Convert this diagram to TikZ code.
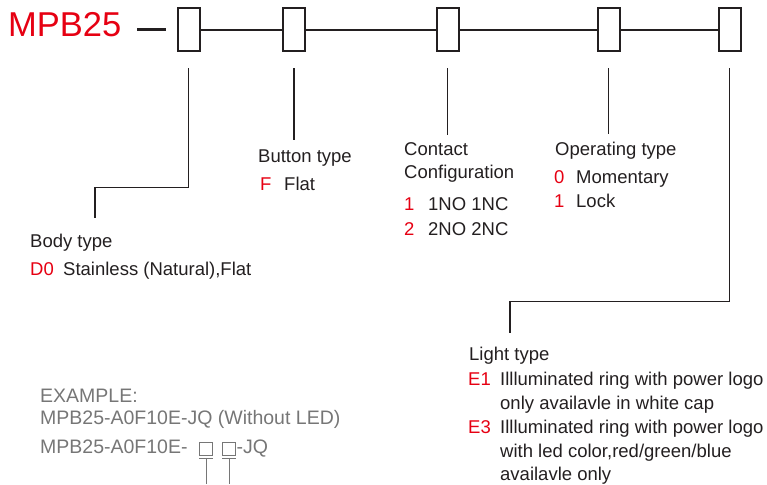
\documentclass[tikz,border=0pt]{standalone}
\usepackage{fontspec}
\setmainfont{Liberation Sans}
\usepackage{tikz}
\usetikzlibrary{positioning}
\usepackage{xcolor}
\definecolor{codered}{RGB}{230,0,18}
\definecolor{lineblack}{RGB}{35,31,32}
\definecolor{examplegray}{RGB}{118,118,118}

\begin{document}
\begin{tikzpicture}[
  x=1pt, y=-1pt,
  slot/.style={rectangle, draw=lineblack, line width=2pt, minimum width=22pt, minimum height=43pt, inner sep=0pt},
  exslot/.style={rectangle, draw=examplegray, line width=0.8pt, minimum width=13pt, minimum height=13pt, inner sep=0pt},
  link/.style={lineblack, line width=1.5pt},
  lead/.style={lineblack, line width=1.4pt},
  exline/.style={examplegray, line width=0.8pt},
  lbl/.style={anchor=base west, inner sep=0pt, text=lineblack, font=\fontsize{18.5}{22}\selectfont},
  code/.style={lbl, text=codered},
  extxt/.style={anchor=base west, inner sep=0pt, text=examplegray, font=\fontsize{19.5}{23}\selectfont}
]
\useasboundingbox (0,0) rectangle (767,484);

% part number row
\node[anchor=base west, inner sep=0pt, text=codered, font=\fontsize{34.5}{40}\selectfont] (title) at (8,37) {MPB25};
\draw[lineblack, line width=3pt] (137,30) -- (166,30);
\node[slot] (b1) at (188.5,30) {};
\node[slot] (b2) at (294,30) {};
\node[slot] (b3) at (447.5,30) {};
\node[slot] (b4) at (608.5,30) {};
\node[slot] (b5) at (729.5,30) {};
\draw[link] (b1.east) -- (b2.west);
\draw[link] (b2.east) -- (b3.west);
\draw[link] (b3.east) -- (b4.west);
\draw[link] (b4.east) -- (b5.west);

% leader ends
\coordinate (bodyend) at (95,218);
\coordinate (btnend) at (294,140);
\coordinate (contend) at (447.5,135);
\coordinate (operend) at (608.5,134);
\coordinate (lightend) at (510,333);

\draw[lead] ([yshift=-16pt]b1.south) -- ++(0,119) -| (bodyend);
\draw[lead] ([yshift=-16pt]b2.south) -- (btnend);
\draw[lead] ([yshift=-16pt]b3.south) -- (contend);
\draw[lead] ([yshift=-16pt]b4.south) -- (operend);
\draw[lead] ([yshift=-16pt]b5.south) -- ++(0,233) -| (lightend);

% body type
\node[lbl] (body) at (30,247) {Body type};
\node[code] (bodyc) at (30,275) {D0};
\node[lbl] (bodyt) at (63,275) {Stainless (Natural),Flat};

% button type
\node[lbl] (btn) at (258,162) {Button type};
\node[code] (btnc) at (260,190) {F};
\node[lbl] (btnt) at (284,190) {Flat};

% contact configuration
\node[lbl] (cont) at (404,155) {Contact};
\node[lbl] (cont2) at (404,178) {Configuration};
\node[code] (contc1) at (404,210) {1};
\node[lbl] (contt1) at (428,210) {1NO 1NC};
\node[code] (contc2) at (404,235) {2};
\node[lbl] (contt2) at (428,235) {2NO 2NC};

% operating type
\node[lbl] (oper) at (555,155) {Operating type};
\node[code] (operc1) at (554,183) {0};
\node[lbl] (opert1) at (576,183) {Momentary};
\node[code] (operc2) at (554,207) {1};
\node[lbl] (opert2) at (576,207) {Lock};

% light type
\node[lbl] (light) at (469,360) {Light type};
\node[code] (lightc1) at (468,385) {E1};
\node[lbl] (lightt1) at (500,385) {Illluminated ring with power logo};
\node[lbl] (lightt1b) at (500,409) {only availavle in white cap};
\node[code] (lightc2) at (468,433) {E3};
\node[lbl] (lightt2) at (500,433) {Illluminated ring with power logo};
\node[lbl] (lightt2b) at (500,457) {with led color,red/green/blue};
\node[lbl] (lightt2c) at (500,480) {availavle only};

% example
\node[extxt] (ex) at (40,402) {EXAMPLE:};
\node[extxt] (ex1) at (40,424) {MPB25-A0F10E-JQ (Without LED)};
\node[extxt] (ex2) at (40,453) {MPB25-A0F10E-};
\node[exslot] (es1) at (206,449) {};
\node[exslot] (es2) at (229,449) {};
\node[extxt] (ex3) at (236.5,453) {-JQ};
\draw[exline] ([yshift=-2pt]es1.south west) -- ([yshift=-2pt]es1.south east);
\draw[exline] ([yshift=-2pt]es2.south west) -- ([yshift=-2pt]es2.south east);
\draw[exline] ([yshift=-2pt]es1.south) -- (es1.south |- 0,484);
\draw[exline] ([yshift=-2pt]es2.south) -- (es2.south |- 0,484);
\end{tikzpicture}
\end{document}
